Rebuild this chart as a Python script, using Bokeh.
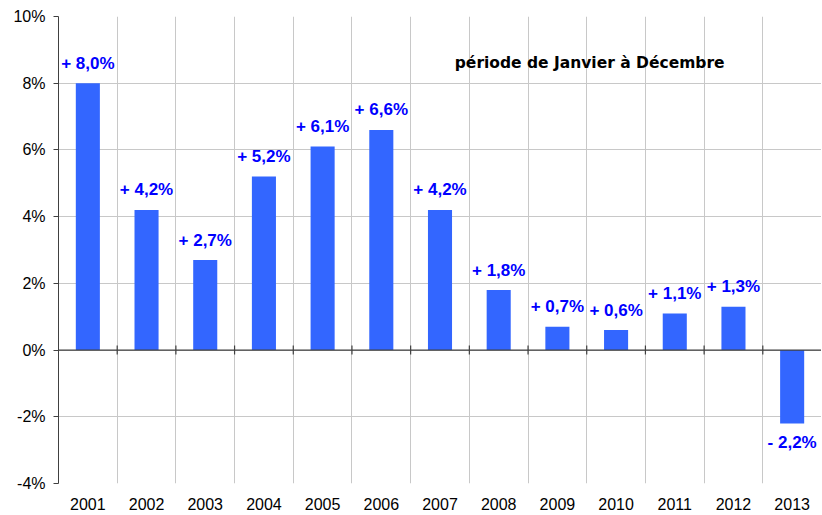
from bokeh.plotting import figure
from bokeh.models import Range1d, FixedTicker, ColumnDataSource, Label, Span
from bokeh.core.properties import value
from bokeh.embed import file_html
from bokeh.resources import INLINE
import math

years = ["2001", "2002", "2003", "2004", "2005", "2006", "2007",
         "2008", "2009", "2010", "2011", "2012", "2013"]
values = [8.0, 4.2, 2.7, 5.2, 6.1, 6.6, 4.2, 1.8, 0.7, 0.6, 1.1, 1.3, -2.2]
labels = ["+ 8,0%", "+ 4,2%", "+ 2,7%", "+ 5,2%", "+ 6,1%", "+ 6,6%", "+ 4,2%",
          "+ 1,8%", "+ 0,7%", "+ 0,6%", "+ 1,1%", "+ 1,3%", "- 2,2%"]
y_ticks = [-4, -2, 0, 2, 4, 6, 8, 10]
y_tick_labels = ["-4%", "-2%", "0%", "2%", "4%", "6%", "8%", "10%"]
subtitle = "période de Janvier à Décembre"

FONT = "Liberation Sans"
xc = [i + 0.5 for i in range(len(years))]

p = figure(width=821, height=514, output_backend="svg", toolbar_location=None,
           x_range=Range1d(0, len(years)), y_range=Range1d(-4, 10),
           min_border_left=58, min_border_right=0, min_border_top=16, min_border_bottom=31)
p.outline_line_color = None

# grids
p.xgrid.ticker = FixedTicker(ticks=list(range(1, len(years))))
p.xgrid.grid_line_color = "#C8C8C8"
p.ygrid.ticker = FixedTicker(ticks=y_ticks)
p.ygrid.grid_line_color = "#C8C8C8"

# x axis (labels only)
p.xaxis.ticker = FixedTicker(ticks=xc)
p.xaxis.major_label_overrides = {x: y for x, y in zip(xc, years)}
p.xaxis.axis_line_color = None
p.xaxis.major_tick_line_color = None
p.xaxis.minor_tick_line_color = None
p.xaxis.major_label_text_font = FONT
p.xaxis.major_label_text_font_size = "16px"
p.xaxis.major_label_text_color = "#000000"
p.xaxis.major_label_standoff = 8

# y axis
p.yaxis.ticker = FixedTicker(ticks=y_ticks)
p.yaxis.major_label_overrides = {t: l for t, l in zip(y_ticks, y_tick_labels)}
p.yaxis.axis_line_color = "#404040"
p.yaxis.major_tick_line_color = "#404040"
p.yaxis.major_tick_out = 5
p.yaxis.major_tick_in = 0
p.yaxis.minor_tick_line_color = None
p.yaxis.major_label_text_font = FONT
p.yaxis.major_label_text_font_size = "16px"
p.yaxis.major_label_text_color = "#000000"
p.yaxis.major_label_standoff = 8

src = ColumnDataSource(dict(x=xc, top=values))
p.vbar(x="x", top="top", bottom=0, width=0.41, source=src,
       fill_color="#3366FF", line_color=None)

# zero axis line with crossing ticks
p.add_layout(Span(location=0, dimension="width", line_color="#404040", line_width=1.2))
p.scatter(x=list(range(1, len(years))), y=[0] * (len(years) - 1), marker="dash",
          angle=math.pi / 2, size=9, line_color="#404040", line_width=1.2)

pos_src = ColumnDataSource(dict(x=[x for x, v in zip(xc, values) if v >= 0],
                                y=[v for v in values if v >= 0],
                                t=[l for l, v in zip(labels, values) if v >= 0]))
neg_src = ColumnDataSource(dict(x=[x for x, v in zip(xc, values) if v < 0],
                                y=[v for v in values if v < 0],
                                t=[l for l, v in zip(labels, values) if v < 0]))
p.text(x="x", y="y", text="t", source=pos_src, text_align="center",
       text_baseline="alphabetic", y_offset=-20, text_font=value(FONT),
       text_font_style="bold", text_font_size="17px", text_color="#0000FF")
p.text(x="x", y="y", text="t", source=neg_src, text_align="center",
       text_baseline="alphabetic", y_offset=19, text_font=value(FONT),
       text_font_style="bold", text_font_size="17px", text_color="#0000FF")

p.add_layout(Label(x=9.05, y=8.61, text=subtitle, text_align="center",
                   text_baseline="alphabetic", text_font="DejaVu Sans", text_font_style="bold",
                   text_font_size="15.5px", text_color="#000000"))

open("out.html", "w").write(file_html(p, INLINE))
